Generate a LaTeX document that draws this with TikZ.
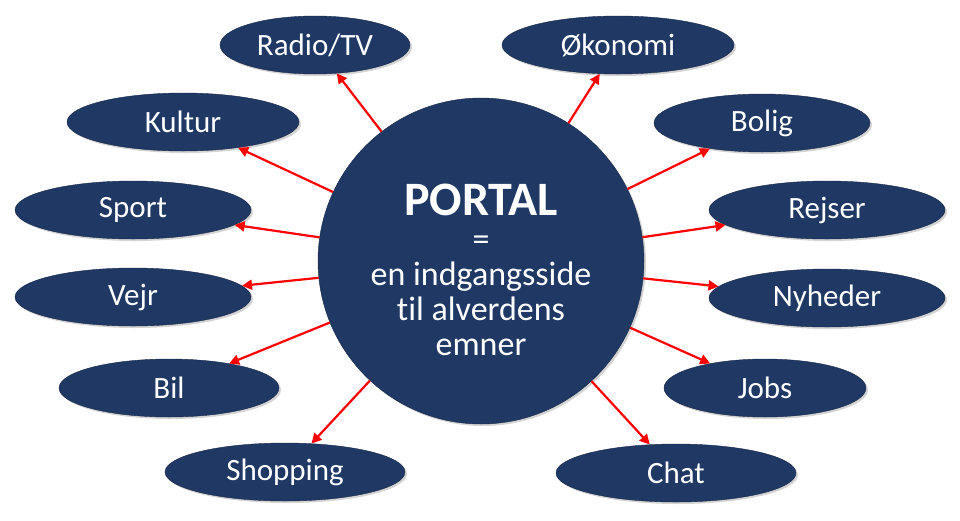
\documentclass[tikz,border=0pt]{standalone}
\usepackage{fontspec}
\setmainfont{Carlito}[Ligatures={NoCommon}]
\usetikzlibrary{shapes.geometric,arrows.meta,shadows}
\definecolor{navy}{HTML}{1F3864}
\tikzset{
 topic/.style={ellipse,fill=navy,draw=navy!70!black,minimum width=232pt,minimum height=58pt,inner sep=0pt,text=white,font=\fontsize{31}{36}\selectfont,drop shadow={opacity=0.35,shadow xshift=2pt,shadow yshift=-2pt}},
 hub/.style={circle,fill=navy,draw=navy!70!black,minimum size=326pt,inner sep=0pt,drop shadow={opacity=0.35,shadow xshift=2pt,shadow yshift=-2pt}},
 link/.style={red,line width=2.2pt,-{Triangle[length=10pt,width=10pt]}}
}
\begin{document}
\begin{tikzpicture}[x=1pt,y=-1pt]
\useasboundingbox (0,0) rectangle (960,520);
\node[hub] (c) at (481,261) {};
\node[text=white,align=center,font=\fontsize{34}{35}\selectfont] (ct) at (481,270) {{\fontsize{48}{52}\selectfont\bfseries PORTAL}\\=\\en indgangsside\\til alverdens\\emner};
\node[topic,minimum width=190pt] (radio) at (315,45) {Radio/TV};
\node[topic] (oko) at (618,45) {Økonomi};
\node[topic] (kultur) at (183,122) {Kultur};
\node[topic,minimum width=216pt] (bolig) at (762,123) {Bolig};
\node[topic,minimum width=236pt] (sport) at (133,210) {Sport};
\node[topic,minimum width=236pt] (rejser) at (827,210) {Rejser};
\node[topic,minimum width=236pt] (vejr) at (133,297) {Vejr};
\node[topic,minimum width=236pt] (nyheder) at (827,298) {Nyheder};
\node[topic,minimum width=220pt] (bil) at (169,388) {Bil};
\node[topic,minimum width=202pt] (jobs) at (765,388) {Jobs};
\node[topic,minimum width=240pt] (shop) at (285,472) {Shopping};
\node[topic,minimum width=240pt] (chat) at (676,473) {Chat};
\foreach \t in {radio,oko,kultur,bolig,sport,rejser,vejr,nyheder,bil,jobs,shop,chat}
  \draw[link] (c) -- (\t);
\end{tikzpicture}
\end{document}
